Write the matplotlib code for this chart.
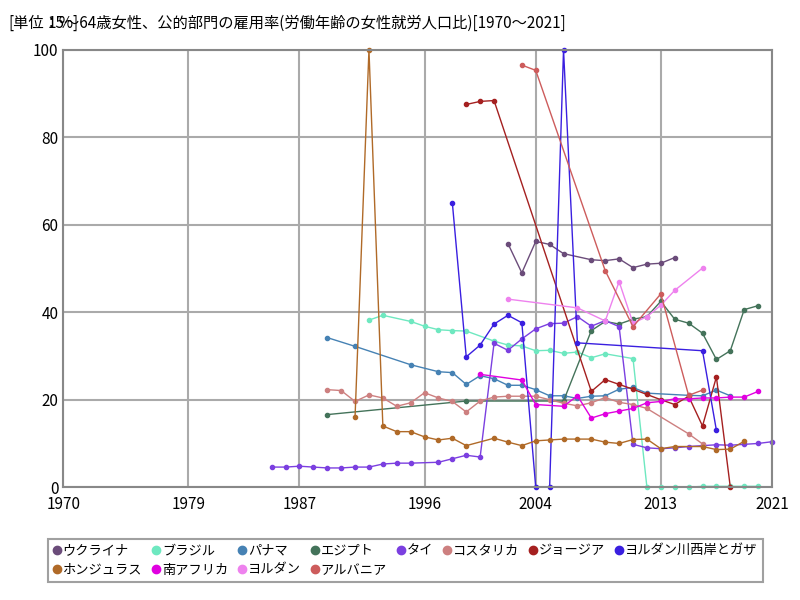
import matplotlib
matplotlib.use("Agg")
import matplotlib.pyplot as plt
from matplotlib.lines import Line2D

plt.rcParams['font.family'] = 'Noto Sans CJK JP'

names = ["ウクライナ","ブラジル","パナマ","エジプト","タイ","コスタリカ","ジョージア","ヨルダン川西岸とガザ","ホンジュラス","南アフリカ","ヨルダン","アルバニア"]
colors = ["#6b4c7a","#6ee8c0","#4682b4","#44735a","#7b3fe0","#cd8080","#a52020","#3a1fe0","#b06a28","#e000e0","#ee82ee","#cd5c5c"]

ukr_x = [2002,2003,2004,2005,2006,2008,2009,2010,2011,2012,2013,2014]
ukr_y = [55.7,49,56.2,55.5,53.4,52,51.8,52.2,50.2,51,51.2,52.5]
bra_x = [1992,1993,1995,1996,1997,1998,1999,2001,2002,2003,2004,2005,2006,2007,2008,2009,2011,2012,2013,2014,2015,2016,2017,2018,2019,2020]
bra_y = [38.2,39.3,37.9,36.8,36,35.8,35.7,33.4,32.5,32.3,31.2,31.3,30.6,30.9,29.6,30.5,29.4,0,0,0,0,0.2,0.2,0.2,0.2,0.2]
pan_x = [1989,1991,1995,1997,1998,1999,2000,2001,2002,2003,2004,2005,2006,2007,2008,2009,2010,2011,2012,2015,2016,2017,2018]
pan_y = [34.2,32.2,28,26.4,26.2,23.5,25.5,24.8,23.3,23.3,22.3,20.9,20.9,20.3,20.8,20.9,22.4,22.8,21.5,21,20.9,22.2,20.9]
egy_x = [1989,1999,2006,2008,2009,2010,2011,2012,2013,2014,2015,2016,2017,2018,2019,2020]
egy_y = [16.6,19.7,19.7,35.8,37.9,37.3,38.4,39,42.5,38.4,37.5,35.2,29.2,31.2,40.6,41.5]
tha_x = [1985,1986,1987,1988,1989,1990,1991,1992,1993,1994,1995,1997,1998,1999,2000,2001,2002,2003,2004,2005,2006,2007,2008,2009,2010,2011,2012,2013,2014,2015,2016,2017,2018,2019,2020,2021]
tha_y = [4.6,4.6,4.8,4.6,4.4,4.4,4.6,4.6,5.3,5.5,5.5,5.7,6.5,7.3,6.9,32.9,31.3,33.9,36.2,37.4,37.5,39.0,36.8,38.1,36.7,9.8,9.0,8.8,9.0,9.3,9.5,9.7,9.6,9.8,10.0,10.4]
cri_x = [1989,1990,1991,1992,1993,1994,1995,1996,1997,1998,1999,2000,2001,2002,2003,2004,2005,2006,2007,2008,2009,2010,2011,2012,2015,2016]
cri_y = [22.3,22.1,19.6,21.1,20.4,18.5,19.3,21.6,20.4,19.6,17.2,19.7,20.6,20.8,20.8,20.8,20.0,19.2,18.6,19.3,20.5,19.4,18.9,18.0,12.2,9.9]
geo_x = [1999,2000,2001,2008,2009,2010,2011,2012,2013,2014,2015,2016,2017,2018]
geo_y = [87.5,88.2,88.4,21.9,24.6,23.5,22.4,21.2,20,18.9,20.8,14,25.2,0]
wbg_x = [1998,1999,2000,2001,2002,2003,2004,2005,2006,2007,2016,2017]
wbg_y = [65,29.8,32.5,37.3,39.3,37.6,0,0,100,33,31.2,13]
hnd_x = [1991,1992,1993,1994,1995,1996,1997,1998,1999,2001,2002,2003,2004,2005,2006,2007,2008,2009,2010,2011,2012,2013,2014,2016,2017,2018,2019]
hnd_y = [16.1,100,14,12.7,12.7,11.5,10.8,11.2,9.5,11.2,10.3,9.5,10.6,10.8,11,11,11,10.3,10,10.9,11,8.8,9.3,9.3,8.6,8.7,10.5]
zaf_x = [2000,2003,2004,2006,2007,2008,2009,2010,2011,2012,2013,2014,2015,2016,2017,2018,2019,2020]
zaf_y = [25.8,24.5,18.9,18.5,20.9,15.8,16.8,17.4,18,19.3,19.6,20.2,20.2,20.4,20.4,20.6,20.6,21.9]
jor_x = [2002,2007,2009,2010,2011,2012,2013,2014,2016]
jor_y = [43,41,38,47,37.5,39,41.6,45,50.1]
alb_x = [2003,2004,2009,2011,2013,2015,2016]
alb_y = [96.5,95.3,49.5,36.7,44.2,21,22.2]

series = [(ukr_x,ukr_y),(bra_x,bra_y),(pan_x,pan_y),(egy_x,egy_y),(tha_x,tha_y),(cri_x,cri_y),
          (geo_x,geo_y),(wbg_x,wbg_y),(hnd_x,hnd_y),(zaf_x,zaf_y),(jor_x,jor_y),(alb_x,alb_y)]
xticks = [1970,1979,1987,1996,2004,2013,2021]

fig = plt.figure(figsize=(8,6), dpi=100)
ax = fig.add_axes([0.079, 0.188, 0.886, 0.729])
handles = []
for (x,y),n,c in zip(series,names,colors):
    ax.plot(x,y,color=c,lw=1,marker='o',ms=3,clip_on=False)
    handles.append(Line2D([],[],color=c,marker='o',ms=6,ls='none'))
ax.set_xlim(1970,2021); ax.set_ylim(0,100)
ax.set_xticks(xticks); ax.set_yticks([0,20,40,60,80,100])
ax.grid(color='#aaaaaa', lw=1.5)
ax.tick_params(length=0, labelsize=11)
ax.tick_params(axis='x', pad=6)
for s in ax.spines.values():
    s.set_color('#888888'); s.set_linewidth(1.5)
fig.text(0.01,0.975,"[単位：%]",fontsize=11,va='top')
fig.text(0.06,0.975,"15～64歳女性、公的部門の雇用率(労働年齢の女性就労人口比)[1970～2021]",fontsize=11,va='top')

blank = Line2D([],[],ls='none')
h2, l2 = [], []
for i in range(8):
    h2.append(handles[i]); l2.append(names[i])
    if i + 8 < 12:
        h2.append(handles[i+8]); l2.append(names[i+8])
    else:
        h2.append(blank); l2.append("")
leg = fig.legend(h2, l2, loc='lower left', bbox_to_anchor=(0.06,0.03), ncol=8,
                 fontsize=9.5, handlelength=0.5, handletextpad=0.2, columnspacing=0.8,
                 fancybox=False, edgecolor='#888888', borderaxespad=0)
leg.get_frame().set_linewidth(1.5)
fig.savefig("out.png")
